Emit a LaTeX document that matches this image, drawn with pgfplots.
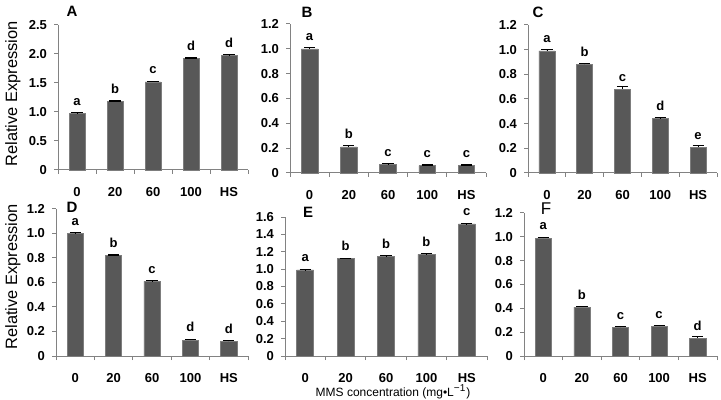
\documentclass[border=0pt]{standalone}
\usepackage{fontspec}
\setmainfont{Liberation Sans}
\usepackage{pgfplots}
\pgfplotsset{compat=1.18}
\definecolor{barfill}{RGB}{88,88,88}
\definecolor{baredge}{RGB}{125,125,125}
\definecolor{axgray}{RGB}{130,130,130}
\newcommand{\tfont}{\bfseries\fontsize{6.5}{7}\selectfont}
\pgfplotsset{
  panel/.style={
    scale only axis,
    anchor=south west,
    axis x line*=bottom,
    axis y line*=left,
    axis line style={axgray, line width=0.5pt},
    every tick/.style={axgray, line width=0.5pt},
    tick align=outside,
    xmin=-0.5, xmax=4.5, ymin=0,
    xtick={0,...,4},
    xticklabels={0,20,60,100,HS},
    major x tick style={draw=none},
    minor xtick={-0.5,0.5,1.5,2.5,3.5,4.5},
    minor tick length=2pt,
    major tick length=2pt,
    ticklabel style={font=\tfont},
    xticklabel style={yshift=-3pt},
    clip=false,
  },
  barplot/.style={
    ybar, bar width=0.42, fill=barfill, draw=baredge, line width=0.3pt,
    point meta=explicit symbolic,
    nodes near coords, every node near coord/.style={font=\tfont, black, yshift=0.5pt},
    error bars/.cd, y dir=plus, y explicit,
    error bar style={black, line width=0.4pt},
    error mark options={black, line width=0.6pt, mark size=2.8pt, rotate=90},
  },
}
\begin{document}
\begin{tikzpicture}
\path[use as bounding box] (0,0) rectangle (360.5pt,-200pt);
% A
\begin{axis}[panel, at={(29pt,-85pt)}, width=95pt, height=72.5pt, ymax=2.5,
  ytick={0,0.5,1,1.5,2,2.5}, yticklabels={0,0.5,1.0,1.5,2.0,2.5}]
\addplot[barplot] table[x=x,y=y,y error=e,meta=l] {
x y e l
0 0.98 0.01 a
1 1.18 0.01 b
2 1.52 0.01 c
3 1.92 0.01 d
4 1.98 0.01 d
};
\end{axis}
% B
\begin{axis}[panel, at={(145pt,-86.5pt)}, width=98pt, height=74.5pt, ymax=1.2,
  ytick={0,0.2,0.4,0.6,0.8,1,1.2}, yticklabels={0,0.2,0.4,0.6,0.8,1.0,1.2}]
\addplot[barplot] table[x=x,y=y,y error=e,meta=l] {
x y e l
0 1.00 0.01 a
1 0.21 0.01 b
2 0.07 0.005 c
3 0.06 0.005 c
4 0.06 0.005 c
};
\end{axis}
% C
\begin{axis}[panel, at={(264pt,-86.5pt)}, width=94.5pt, height=74pt, ymax=1.2,
  ytick={0,0.2,0.4,0.6,0.8,1,1.2}, yticklabels={0,0.2,0.4,0.6,0.8,1.0,1.2}]
\addplot[barplot] table[x=x,y=y,y error=e,meta=l] {
x y e l
0 0.99 0.01 a
1 0.88 0.01 b
2 0.68 0.02 c
3 0.44 0.01 d
4 0.21 0.01 e
};
\end{axis}
% D
\begin{axis}[panel, at={(28pt,-178pt)}, width=96pt, height=73.5pt, ymax=1.2,
  ytick={0,0.2,0.4,0.6,0.8,1,1.2}, yticklabels={0,0.2,0.4,0.6,0.8,1.0,1.2}]
\addplot[barplot] table[x=x,y=y,y error=e,meta=l] {
x y e l
0 1.00 0.005 a
1 0.82 0.005 b
2 0.61 0.005 c
3 0.13 0.005 d
4 0.12 0.008 d
};
\end{axis}
% E
\begin{axis}[panel, at={(142.5pt,-178pt)}, width=101pt, height=69.5pt, ymax=1.6,
  ytick={0,0.2,0.4,0.6,0.8,1,1.2,1.4,1.6}, yticklabels={0,0.2,0.4,0.6,0.8,1.0,1.2,1.4,1.6}]
\addplot[barplot] table[x=x,y=y,y error=e,meta=l] {
x y e l
0 0.99 0.005 a
1 1.12 0.005 b
2 1.15 0.005 b
3 1.17 0.008 b
4 1.52 0.005 c
};
\end{axis}
% F
\begin{axis}[panel, at={(262pt,-178pt)}, width=96.5pt, height=71.5pt, ymax=1.2,
  ytick={0,0.2,0.4,0.6,0.8,1,1.2}, yticklabels={0,0.2,0.4,0.6,0.8,1.0,1.2}]
\addplot[barplot] table[x=x,y=y,y error=e,meta=l] {
x y e l
0 0.99 0.005 a
1 0.41 0.008 b
2 0.24 0.008 c
3 0.25 0.008 c
4 0.15 0.012 d
};
\end{axis}
% panel letters
\node[font=\bfseries\fontsize{7.5}{8}\selectfont] at (36pt,-5.5pt) {A};
\node[font=\bfseries\fontsize{7.5}{8}\selectfont] at (153.5pt,-6pt) {B};
\node[font=\bfseries\fontsize{7.5}{8}\selectfont] at (269pt,-6.25pt) {C};
\node[font=\bfseries\fontsize{7.5}{8}\selectfont] at (36pt,-103.75pt) {D};
\node[font=\bfseries\fontsize{7.5}{8}\selectfont] at (154pt,-106pt) {E};
\node[font=\fontsize{8.5}{9}\selectfont] at (273pt,-104.5pt) {F};
% axis titles
\node[rotate=90, font=\fontsize{8.2}{9}\selectfont] at (6.5pt,-47pt) {Relative Expression};
\node[rotate=90, font=\fontsize{8.2}{9}\selectfont] at (6.5pt,-138.5pt) {Relative Expression};
\node[font=\fontsize{6}{7}\selectfont] at (196.5pt,-196pt) {MMS concentration (mg•L\textsuperscript{−1})};
\end{tikzpicture}
\end{document}
